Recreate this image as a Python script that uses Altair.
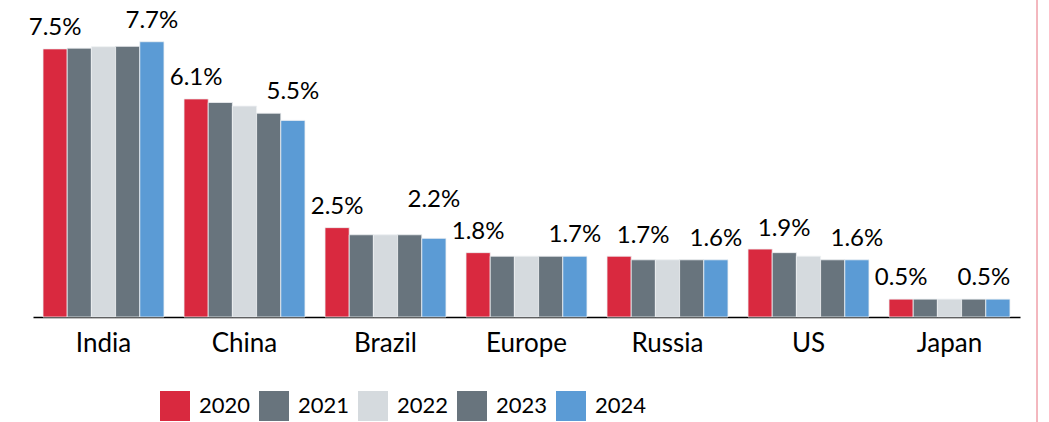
import altair as alt
import pandas as pd

countries = ["India", "China", "Brazil", "Europe", "Russia", "US", "Japan"]
years = ["2020", "2021", "2022", "2023", "2024"]
v2020 = [7.5, 6.1, 2.5, 1.8, 1.7, 1.9, 0.5]
v2021 = [7.52, 6.0, 2.3, 1.7, 1.6, 1.8, 0.5]
v2022 = [7.56, 5.9, 2.3, 1.7, 1.6, 1.7, 0.5]
v2023 = [7.57, 5.7, 2.3, 1.7, 1.6, 1.6, 0.5]
v2024 = [7.7, 5.5, 2.2, 1.7, 1.6, 1.6, 0.5]
colors = ["#D9293F", "#68747D", "#D5DADE", "#68747D", "#5B9BD5"]

series = [v2020, v2021, v2022, v2023, v2024]
rows = []
for y, vals in zip(years, series):
    for c, v in zip(countries, vals):
        rows.append({"country": c, "year": y, "value": v})
df = pd.DataFrame(rows)

FONT = "Lato"

x_enc = alt.X(
    "country:N", sort=countries,
    scale=alt.Scale(paddingInner=0.142, paddingOuter=0.071),
    axis=alt.Axis(title=None, labelAngle=0, ticks=False, labelFontSize=26,
                  labelFont=FONT, labelColor="black", labelPadding=13,
                  domainColor="black", domainWidth=1.5, grid=False),
)
xo_enc = alt.XOffset("year:N", sort=years)
y_enc = alt.Y("value:Q", scale=alt.Scale(domain=[0, 8], nice=False), axis=None)

base = alt.Chart(df)

bars = base.mark_bar(stroke="#eef0f2", strokeWidth=0.8).encode(
    x=x_enc, xOffset=xo_enc, y=y_enc,
    color=alt.Color(
        "year:N",
        scale=alt.Scale(domain=years, range=colors),
        legend=alt.Legend(
            title=None, orient="none", legendX=127, legendY=360,
            direction="horizontal", symbolType="square", symbolSize=900,
            symbolStrokeWidth=0, symbolOpacity=1, labelFontSize=22, labelFont=FONT,
            labelColor="black", labelOffset=9, columnPadding=8, padding=0,
        ),
    ),
)

label_base = base.transform_filter(
    "datum.year == '2020' || datum.year == '2024'"
).transform_calculate(label="format(datum.value, '.1f') + '%'")

text_kw = dict(baseline="alphabetic", fontSize=24, font=FONT, color="black")

special = {
    "china24": ("datum.country == 'China' && datum.year == '2024'", 0, -21),
    "brazil24": ("datum.country == 'Brazil' && datum.year == '2024'", 0, -31),
    "ru_us20": ("(datum.country == 'Russia' || datum.country == 'US') && datum.year == '2020'", 24, -13),
    "japan24": ("datum.country == 'Japan' && datum.year == '2024'", -14, -14),
}


def label_layer(expr, dx, dy):
    return label_base.transform_filter(expr).mark_text(dx=dx, dy=dy, **text_kw).encode(
        x=x_enc, xOffset=xo_enc, y=y_enc, text="label:N"
    )


default_expr = "!(" + " || ".join("(" + s[0] + ")" for s in special.values()) + ")"
layers = [bars, label_layer(default_expr, 0, -14)]
for expr, dx, dy in special.values():
    layers.append(label_layer(expr, dx, dy))

edge = alt.Chart(pd.DataFrame({"a": [0]})).mark_rule(
    color="#E8707E", strokeWidth=1
).encode(x=alt.value(1004), y=alt.value(-31), y2=alt.value(391))
layers.append(edge)

chart = alt.layer(*layers).properties(
    width=987, height=286,
    background="white",
    autosize=alt.AutoSizeParams(type="none"),
    padding={"left": 33, "top": 31, "right": 29, "bottom": 105},
).configure_view(stroke="transparent", strokeWidth=0)

chart.save("out.html", embed_options={"renderer": "svg", "actions": False})
